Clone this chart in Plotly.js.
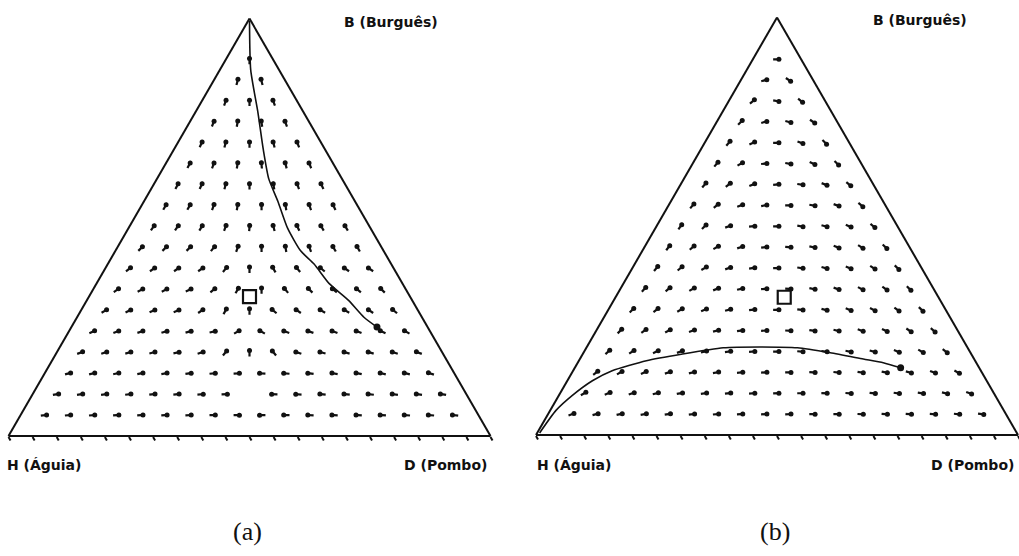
<!DOCTYPE html>
<html>
<head>
<meta charset="utf-8">
<script src="https://cdn.plot.ly/plotly-3.0.1.min.js"></script>
<style>
  html, body { margin: 0; padding: 0; background: #fff; }
  #chart { width: 1019px; height: 556px; }
</style>
</head>
<body>
<div id="chart"></div>
<script>
// Simplex grid with 20 divisions; only interior points (every share >= 1/20).
const GRID_N = 20;

// Flow direction at each grid point, degrees counter-clockwise from the H→D side.
// One row per Burguês level (1/20 … 18/20), listed from the H side to the D side.
// null = no visible arrow (rest point).
const flowA = [
  [6, 5, 5, 4, 4, 3, 2, 1, 0, 180, 179, 178, 177, 176, 176, 175, 175, 174],
  [10, 9, 8, 7, 6, 5, 4, 2, null, 178, 176, 175, 174, 173, 172, 171, 170],
  [15, 14, 13, 12, 10, 8, 5, 2, 178, 175, 172, 170, 168, 166, 165, 162],
  [20, 18, 16, 15, 12, 18, 50, 90, 130, 162, 165, 164, 163, 162, 160],
  [25, 22, 18, 16, 15, 12, 30, 150, 160, 162, 160, 158, 155, 150],
  [30, 26, 24, 24, 35, 60, 90, 140, 145, 150, 150, 145, 140],
  [35, 28, 28, 25, 40, 60, 90, 130, 135, 140, 140, 135],
  [38, 35, 35, 35, 50, 90, 120, 130, 140, 145, 145],
  [45, 45, 45, 50, 70, 90, 100, 110, 120, 120],
  [55, 55, 60, 70, 85, 105, 115, 120, 120],
  [60, 60, 70, 80, 90, 100, 110, 115],
  [62, 65, 75, 90, 100, 110, 115],
  [62, 70, 80, 95, 105, 112],
  [65, 75, 90, 105, 112],
  [68, 80, 100, 110],
  [70, 90, 110],
  [75, 105],
  [90]
];

const flowB = [
  [20, 15, 12, 10, 8, 6, 5, 4, 3, 2, 0, 0, -2, -3, -4, -5, -6, -8],
  [30, 22, 18, 14, 10, 8, 6, 4, 2, 0, -2, -4, -6, -8, -10, -14, -20],
  [38, 30, 24, 18, 14, 10, 6, 3, 0, -3, -6, -9, -12, -16, -22, -30],
  [42, 34, 26, 20, 14, 8, 4, 0, -4, -8, -12, -16, -22, -30, -38],
  [45, 36, 28, 20, 14, 8, 2, -2, -8, -14, -20, -26, -34, -42],
  [46, 38, 30, 22, 14, 6, 0, -6, -14, -22, -28, -36, -44],
  [48, 40, 30, 22, 12, 4, -4, -12, -20, -28, -36, -45],
  [50, 40, 30, 20, 10, 0, -8, -16, -24, -34, -44],
  [52, 42, 30, 18, 8, -4, -12, -22, -32, -44],
  [55, 45, 20, 5, 0, -10, -15, -25, -40],
  [50, 40, 20, 10, 0, -10, -20, -40],
  [50, 38, 22, 6, -8, -22, -40],
  [50, 30, 5, -10, -25, -45],
  [50, 25, 0, -20, -45],
  [45, 15, -15, -35],
  [40, -10, -40],
  [15, -35],
  [0]
];

// Trajectories, as shares of B (Burguês), H (Águia), D (Pombo).
const trajA_B = [0.995, 0.877, 0.775, 0.687, 0.616, 0.562, 0.498, 0.443, 0.412, 0.365, 0.325, 0.284, 0.261];
const trajA_H = [0.0025, 0.059, 0.095, 0.128, 0.152, 0.160, 0.172, 0.172, 0.160, 0.152, 0.132, 0.120, 0.105];
const trajA_D = [0.0025, 0.064, 0.130, 0.185, 0.232, 0.278, 0.330, 0.385, 0.428, 0.483, 0.543, 0.596, 0.634];

const trajB_B = [0.005, 0.059, 0.095, 0.130, 0.154, 0.178, 0.194, 0.209, 0.211, 0.209, 0.197, 0.182, 0.173, 0.161];
const trajB_H = [0.990, 0.929, 0.877, 0.818, 0.765, 0.682, 0.599, 0.507, 0.430, 0.353, 0.291, 0.230, 0.193, 0.163];
const trajB_D = [0.005, 0.012, 0.028, 0.052, 0.081, 0.140, 0.207, 0.284, 0.359, 0.438, 0.512, 0.588, 0.634, 0.676];

// Interior rest points (square markers): [B, H, D]
const restA = [0.334, 0.333, 0.333];
const restB = [0.330, 0.320, 0.350];

// Corner labels and panel captions
const labelTop = 'B (Burguês)';
const labelLeft = 'H (Águia)';
const labelRight = 'D (Pombo)';
const captions = ['(a)', '(b)'];

const INK = '#111';
const ARROW_LEN = 0.016;          // stem length, in shares of a side
const H_SIDE = Math.sqrt(3) / 2;

// Build stems + blob heads of the direction field for one ternary subplot.
function fieldTraces(rows, subplot) {
  const sa = [], sb = [], sc = [];
  const ta = [], tb = [], tc = [];
  rows.forEach((row, i) => {
    const lvl = i + 1;
    row.forEach((deg, j) => {
      if (deg === null) return;
      const d = j + 1;
      const h = GRID_N - lvl - d;
      const a0 = lvl / GRID_N, b0 = h / GRID_N, c0 = d / GRID_N;
      const t = deg * Math.PI / 180;
      const dx = ARROW_LEN * Math.cos(t), dy = ARROW_LEN * Math.sin(t);
      const da = dy / H_SIDE;
      const dc = dx - da / 2;
      const db = -da - dc;
      sa.push(a0 - da / 2, a0 + da / 2, null);
      sb.push(b0 - db / 2, b0 + db / 2, null);
      sc.push(c0 - dc / 2, c0 + dc / 2, null);
      ta.push(a0 + da / 4); tb.push(b0 + db / 4); tc.push(c0 + dc / 4);
    });
  });
  return [
    {
      type: 'scatterternary', subplot, mode: 'lines',
      a: sa, b: sb, c: sc, connectgaps: false,
      line: { color: INK, width: 2.2 }, hoverinfo: 'skip'
    },
    {
      type: 'scatterternary', subplot, mode: 'markers',
      a: ta, b: tb, c: tc,
      marker: { symbol: 'circle', size: 5, color: INK, line: { width: 0 } },
      hoverinfo: 'skip'
    }
  ];
}

function trajTraces(A, B, C, subplot) {
  const n = A.length - 1;
  return [
    {
      type: 'scatterternary', subplot, mode: 'lines',
      a: A, b: B, c: C,
      line: { color: INK, width: 1.6, shape: 'spline', smoothing: 0.6 },
      hoverinfo: 'skip'
    },
    {
      type: 'scatterternary', subplot, mode: 'markers',
      a: [A[n]], b: [B[n]], c: [C[n]],
      marker: { symbol: 'circle', size: 7, color: INK },
      hoverinfo: 'skip'
    }
  ];
}

function restTrace(p, subplot) {
  return {
    type: 'scatterternary', subplot, mode: 'markers',
    a: [p[0]], b: [p[1]], c: [p[2]],
    marker: { symbol: 'square-open', size: 13, color: INK, line: { width: 2.2, color: INK } },
    hoverinfo: 'skip'
  };
}

const data = [].concat(
  fieldTraces(flowA, 'ternary'),
  trajTraces(trajA_B, trajA_H, trajA_D, 'ternary'),
  [restTrace(restA, 'ternary')],
  fieldTraces(flowB, 'ternary2'),
  trajTraces(trajB_B, trajB_H, trajB_D, 'ternary2'),
  [restTrace(restB, 'ternary2')]
);

const W = 1019, H = 556;
const px = x => x / W;
const py = y => 1 - y / H;

function axisStyle(withTicks) {
  return {
    showgrid: false, showline: true, linecolor: INK, linewidth: 2,
    ticks: withTicks ? 'outside' : '', ticklen: 4, tickwidth: 2, tickcolor: INK,
    tick0: 0, dtick: 0.05, showticklabels: false, min: 0,
    title: { text: '' }
  };
}

function ternaryLayout(cx, cy) {
  return {
    sum: 1,
    domain: { x: [px(cx - 241), px(cx + 241)], y: [py(cy + 215), py(cy - 215)] },
    bgcolor: 'rgba(0,0,0,0)',
    aaxis: axisStyle(false),
    baxis: axisStyle(true),
    caxis: axisStyle(false)
  };
}

const labelFont = { family: 'DejaVu Sans', size: 14, color: INK, weight: 'bold' };
const capFont = { family: 'Liberation Serif', size: 26, color: INK };

function note(text, x, y, anchor, font) {
  return {
    text, xref: 'paper', yref: 'paper', x: px(x), y: py(y),
    xanchor: anchor, yanchor: 'middle', showarrow: false, font
  };
}

const layout = {
  width: W, height: H,
  margin: { l: 0, r: 0, t: 0, b: 0 },
  paper_bgcolor: '#fff', plot_bgcolor: '#fff',
  showlegend: false,
  ternary: ternaryLayout(249.5, 227.3),
  ternary2: ternaryLayout(777, 226.3),
  annotations: [
    note(labelTop, 342, 22, 'left', labelFont),
    note(labelLeft, 5, 465, 'left', labelFont),
    note(labelRight, 489, 465, 'right', labelFont),
    note(labelTop, 871, 20, 'left', labelFont),
    note(labelLeft, 535, 465, 'left', labelFont),
    note(labelRight, 1016, 465, 'right', labelFont),
    note(captions[0], 247, 531, 'center', capFont),
    note(captions[1], 775, 531, 'center', capFont)
  ]
};

Plotly.newPlot('chart', data, layout, { staticPlot: true, displayModeBar: false });
</script>
</body>
</html>
